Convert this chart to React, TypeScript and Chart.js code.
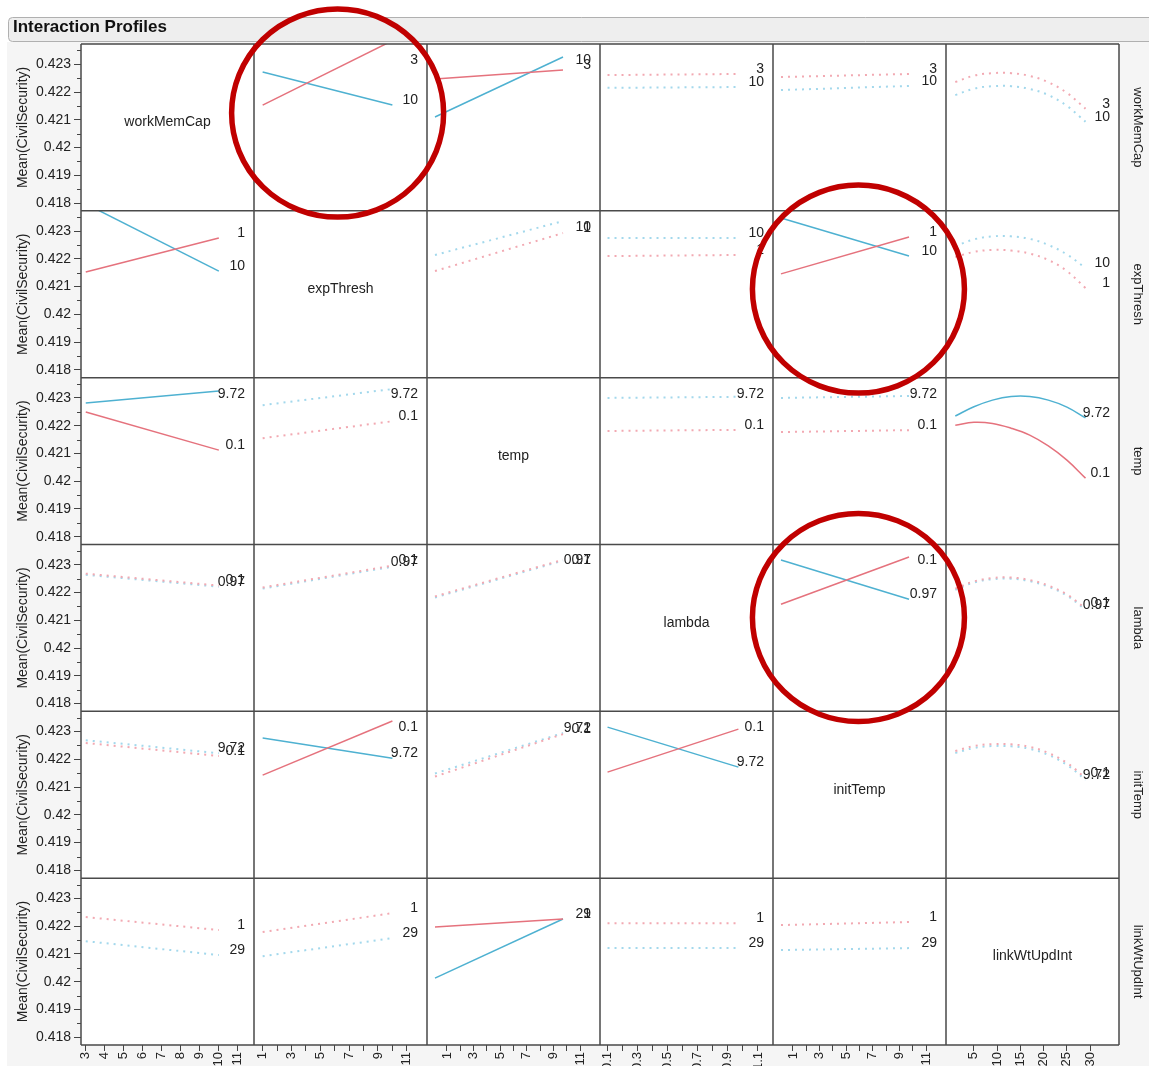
import React, { useEffect, useRef } from 'react';
import { Chart, registerables } from 'chart.js';

Chart.register(...registerables);

const FONT = '"Liberation Sans", Arial, Helvetica, sans-serif';

const TITLE = 'Interaction Profiles';
const Y_TITLE = 'Mean(CivilSecurity)';
const FACTORS = ['workMemCap', 'expThresh', 'temp', 'lambda', 'initTemp', 'linkWtUpdInt'];
const LEVEL_LABELS = [
  ['3', '10'],
  ['1', '10'],
  ['0.1', '9.72'],
  ['0.1', '0.97'],
  ['0.1', '9.72'],
  ['1', '29'],
];
// x values at which each factor is profiled (columns)
const FACTOR_X = [
  [3, 10],
  [1, 10],
  [0.1, 9.72],
  [0.1, 0.97],
  [0.1, 9.72],
  [1, 5, 9, 13, 17, 21, 25, 29],
];
const X_MIN = [2.75, 0.4, -0.5, 0.05, -0.5, -1];
const X_MAX = [11.85, 12.4, 12.5, 1.2, 12.5, 36.2];

const X_TICKS_WORKMEMCAP = [3, 4, 5, 6, 7, 8, 9, 10, 11];
const X_LABELS_WORKMEMCAP = ['3', '4', '5', '6', '7', '8', '9', '10', '11'];
const X_TICKS_EXPTHRESH = [1, 2, 3, 4, 5, 6, 7, 8, 9, 10, 11];
const X_LABELS_EXPTHRESH = ['1', '', '3', '', '5', '', '7', '', '9', '', '11'];
const X_TICKS_TEMP = [1, 2, 3, 4, 5, 6, 7, 8, 9, 10, 11];
const X_LABELS_TEMP = ['1', '', '3', '', '5', '', '7', '', '9', '', '11'];
const X_TICKS_LAMBDA = [0.1, 0.2, 0.3, 0.4, 0.5, 0.6, 0.7, 0.8, 0.9, 1.0, 1.1];
const X_LABELS_LAMBDA = ['0.1', '', '0.3', '', '0.5', '', '0.7', '', '0.9', '', '1.1'];
const X_TICKS_INITTEMP = [1, 2, 3, 4, 5, 6, 7, 8, 9, 10, 11];
const X_LABELS_INITTEMP = ['1', '', '3', '', '5', '', '7', '', '9', '', '11'];
const X_TICKS_LINK = [5, 10, 15, 20, 25, 30];
const X_LABELS_LINK = ['5', '10', '15', '20', '25', '30'];

const X_TICKS = [X_TICKS_WORKMEMCAP, X_TICKS_EXPTHRESH, X_TICKS_TEMP, X_TICKS_LAMBDA, X_TICKS_INITTEMP, X_TICKS_LINK];
const X_TICK_LABELS = [X_LABELS_WORKMEMCAP, X_LABELS_EXPTHRESH, X_LABELS_TEMP, X_LABELS_LAMBDA, X_LABELS_INITTEMP, X_LABELS_LINK];

const Y_MIN = 0.41772;
const Y_MAX = 0.42373;
const Y_TICKS = [0.418, 0.419, 0.42, 0.421, 0.422, 0.423];
const Y_TICK_LABELS = ['0.418', '0.419', '0.42', '0.421', '0.422', '0.423'];
const Y_MINOR_TICKS = [0.4185, 0.4195, 0.4205, 0.4215, 0.4225, 0.4235];

// Mean(CivilSecurity) by row factor level (low = red, high = blue), one entry per column factor
const workMemCapLow = [null, [0.42153, 0.42385], [0.42247, 0.42279], [0.42261, 0.42265], [0.42254, 0.42265], [0.42236, 0.42259, 0.42268, 0.42268, 0.42258, 0.42235, 0.42197, 0.4214]];
const workMemCapHigh = [null, [0.42272, 0.42153], [0.4211, 0.42326], [0.42215, 0.42218], [0.42207, 0.42222], [0.42189, 0.42212, 0.42221, 0.42221, 0.42211, 0.42189, 0.4215, 0.42093]];
const workMemCapSolid = [false, true, true, false, false, false];

const expThreshLow = [[0.42153, 0.42275], null, [0.42156, 0.42293], [0.4221, 0.42214], [0.42146, 0.42279], [0.42207, 0.42225, 0.42232, 0.4223, 0.42219, 0.42196, 0.42156, 0.42095]];
const expThreshHigh = [[0.42398, 0.42156], null, [0.42214, 0.42336], [0.42275, 0.42275], [0.42347, 0.4221], [0.42246, 0.4227, 0.42281, 0.42281, 0.42272, 0.4225, 0.42216, 0.42167]];
const expThreshSolid = [true, false, false, false, true, false];

const tempLow = [[0.42249, 0.42112], [0.42155, 0.42216], null, [0.42181, 0.42185], [0.42177, 0.42184], [0.42202, 0.42212, 0.42208, 0.42191, 0.42166, 0.42127, 0.42076, 0.42011]];
const tempHigh = [[0.42282, 0.42325], [0.42274, 0.42332], null, [0.423, 0.42304], [0.423, 0.42307], [0.42235, 0.42268, 0.42292, 0.42305, 0.42305, 0.42292, 0.42267, 0.42228]];
const tempSolid = [true, false, false, false, false, true];

const lambdaLow = [[0.42268, 0.42225], [0.42218, 0.42297], [0.42186, 0.42318], null, [0.42158, 0.42328], [0.42214, 0.4224, 0.42252, 0.42254, 0.42245, 0.42225, 0.42193, 0.42142]];
const lambdaHigh = [[0.42264, 0.42221], [0.42214, 0.42293], [0.42182, 0.42315], null, [0.42317, 0.42176], [0.4221, 0.42236, 0.42248, 0.4225, 0.42241, 0.42221, 0.42189, 0.42138]];
const lambdaSolid = [false, false, false, false, true, false];

const initTempLow = [[0.42259, 0.42212], [0.42143, 0.42338], [0.42138, 0.42291], [0.42154, 0.42309], null, [0.4223, 0.42248, 0.42255, 0.42254, 0.42245, 0.42223, 0.42187, 0.42133]];
const initTempHigh = [[0.42269, 0.42222], [0.42277, 0.42204], [0.42149, 0.42295], [0.42316, 0.42172], null, [0.42223, 0.42241, 0.42248, 0.42247, 0.42238, 0.42216, 0.4218, 0.42126]];
const initTempSolid = [false, true, false, true, false, false];

const linkWtUpdIntLow = [[0.42233, 0.42186], [0.42179, 0.42247], [0.42197, 0.42226], [0.42211, 0.42211], [0.42204, 0.42215], null];
const linkWtUpdIntHigh = [[0.42146, 0.42096], [0.42092, 0.42157], [0.42013, 0.42226], [0.42121, 0.42121], [0.42114, 0.42121], null];
const linkWtUpdIntSolid = [false, false, true, false, false, false];

const ROW_LOW = [workMemCapLow, expThreshLow, tempLow, lambdaLow, initTempLow, linkWtUpdIntLow];
const ROW_HIGH = [workMemCapHigh, expThreshHigh, tempHigh, lambdaHigh, initTempHigh, linkWtUpdIntHigh];
const ROW_SOLID = [workMemCapSolid, expThreshSolid, tempSolid, lambdaSolid, initTempSolid, linkWtUpdIntSolid];

// highlight circles (annotation), centred in panel data coordinates
const CIRCLE_ROWS = [0, 1, 3];
const CIRCLE_COLS = [1, 4, 4];
const CIRCLE_X = [6.2, 5.92, 5.92];
const CIRCLE_Y = [0.42124, 0.42091, 0.4211];

const SOLID_COLORS = ['#e5727d', '#4eb1d1'];
const DOT_COLORS = ['#f2a9b2', '#a3d8ec'];

function buildDatasets() {
  const datasets: any[] = [];
  for (let r = 0; r < 6; r++) {
    for (let c = 0; c < 6; c++) {
      if (r === c) continue;
      for (let lvl = 0; lvl < 2; lvl++) {
        const vals = (lvl === 0 ? ROW_LOW : ROW_HIGH)[r][c] as number[];
        const solid = ROW_SOLID[r][c];
        datasets.push({
          label: LEVEL_LABELS[r][lvl],
          data: FACTOR_X[c].map((x, i) => ({ x, y: vals[i] })),
          xAxisID: 'x' + c,
          yAxisID: 'y' + r,
          borderColor: solid ? SOLID_COLORS[lvl] : DOT_COLORS[lvl],
          borderWidth: solid ? 1.5 : 2,
          borderDash: solid ? [] : [2, 5],
          pointRadius: 0,
          pointHoverRadius: 0,
          fill: false,
          tension: c === 5 ? 0.4 : 0,
        });
      }
    }
  }
  return datasets;
}

function buildScales() {
  const scales: any = {};
  for (let c = 0; c < 6; c++) {
    scales['x' + c] = {
      type: 'linear',
      axis: 'x',
      position: 'bottom',
      stack: 'cols',
      stackWeight: 1,
      weight: c,
      min: X_MIN[c],
      max: X_MAX[c],
      afterBuildTicks: (s: any) => {
        s.ticks = X_TICKS[c].map((v) => ({ value: v }));
      },
      afterFit: (s: any) => {
        s.height = 21;
      },
      ticks: {
        autoSkip: false,
        minRotation: 90,
        maxRotation: 90,
        padding: 1,
        color: '#222',
        font: { size: 13, family: FONT },
        callback: (_v: any, i: number) => X_TICK_LABELS[c][i],
      },
      grid: { drawOnChartArea: false, drawTicks: true, tickLength: 6, color: '#444' },
      border: { display: false },
    };
  }
  for (let r = 0; r < 6; r++) {
    scales['y' + r] = {
      type: 'linear',
      axis: 'y',
      position: 'left',
      stack: 'rows',
      stackWeight: 1,
      weight: 6 - r,
      min: Y_MIN,
      max: Y_MAX,
      afterBuildTicks: (s: any) => {
        s.ticks = Y_TICKS.map((v) => ({ value: v }));
      },
      afterFit: (s: any) => {
        s.width = 68;
      },
      ticks: {
        autoSkip: false,
        padding: 3,
        color: '#222',
        font: { size: 14, family: FONT },
        callback: (_v: any, i: number) => Y_TICK_LABELS[i],
      },
      grid: { drawOnChartArea: false, drawTicks: true, tickLength: 7, color: '#444' },
      border: { display: false },
      title: {
        display: true,
        text: Y_TITLE,
        color: '#222',
        font: { size: 14, family: FONT },
        padding: { top: 2, bottom: 0 },
      },
    };
    scales['r' + r] = {
      type: 'linear',
      axis: 'y',
      position: 'right',
      stack: 'names',
      stackWeight: 1,
      weight: r,
      min: 0,
      max: 1,
      afterFit: (s: any) => {
        s.width = 30;
      },
      ticks: { display: false },
      grid: { display: false, drawTicks: false },
      border: { display: false },
      title: {
        display: true,
        text: FACTORS[r],
        color: '#222',
        font: { size: 13, family: FONT },
        padding: { top: 4, bottom: 0 },
      },
    };
  }
  return scales;
}

const panelPlugin = {
  id: 'interactionPanels',
  beforeDraw(chart: any) {
    const { ctx, width, height } = chart;
    ctx.save();
    ctx.fillStyle = '#ffffff';
    ctx.fillRect(0, 0, width, height);
    ctx.fillStyle = '#f5f5f5';
    ctx.fillRect(7, 42, width - 7, height - 42);
    ctx.beginPath();
    if (ctx.roundRect) ctx.roundRect(8.5, 17.5, width, 24, 4);
    else ctx.rect(8.5, 17.5, width, 24);
    ctx.fillStyle = '#eeeeee';
    ctx.fill();
    ctx.strokeStyle = '#b0b0b0';
    ctx.lineWidth = 1;
    ctx.stroke();
    ctx.fillStyle = '#ffffff';
    for (let r = 0; r < 6; r++) {
      for (let c = 0; c < 6; c++) {
        const xs = chart.scales['x' + c];
        const ys = chart.scales['y' + r];
        ctx.fillRect(xs.left, ys.top, xs.right - xs.left, ys.bottom - ys.top);
      }
    }
    ctx.restore();
  },
  beforeDatasetDraw(chart: any, args: any) {
    const meta = args.meta;
    const ctx = chart.ctx;
    ctx.save();
    ctx.beginPath();
    ctx.rect(meta.xScale.left, meta.yScale.top, meta.xScale.right - meta.xScale.left, meta.yScale.bottom - meta.yScale.top);
    ctx.clip();
  },
  afterDatasetDraw(chart: any) {
    chart.ctx.restore();
  },
  afterDraw(chart: any) {
    const ctx = chart.ctx;
    const area = chart.chartArea;
    ctx.save();
    // minor y ticks
    ctx.strokeStyle = '#444';
    ctx.lineWidth = 1;
    for (let r = 0; r < 6; r++) {
      const ys = chart.scales['y' + r];
      for (const v of Y_MINOR_TICKS) {
        const py = Math.round(ys.getPixelForValue(v)) + 0.5;
        ctx.beginPath();
        ctx.moveTo(area.left - 4, py);
        ctx.lineTo(area.left, py);
        ctx.stroke();
      }
    }
    // end-of-line level labels
    ctx.font = `14px ${FONT}`;
    ctx.fillStyle = '#222';
    ctx.textAlign = 'right';
    ctx.textBaseline = 'middle';
    chart.data.datasets.forEach((ds: any, i: number) => {
      const meta = chart.getDatasetMeta(i);
      const xs = meta.xScale;
      const ys = meta.yScale;
      const last = ds.data[ds.data.length - 1];
      let py = ys.getPixelForValue(last.y) - 5;
      py = Math.min(Math.max(py, ys.top + 16), ys.bottom - 10);
      ctx.fillText(ds.label, xs.right - 9, py);
    });
    // diagonal factor names
    ctx.textAlign = 'center';
    for (let r = 0; r < 6; r++) {
      const xs = chart.scales['x' + r];
      const ys = chart.scales['y' + r];
      ctx.fillText(FACTORS[r], (xs.left + xs.right) / 2, (ys.top + ys.bottom) / 2 - 5);
    }
    // panel borders
    ctx.strokeStyle = '#4a4a4a';
    ctx.lineWidth = 1.5;
    ctx.beginPath();
    for (let c = 0; c < 6; c++) {
      const x = chart.scales['x' + c].left;
      ctx.moveTo(x, area.top);
      ctx.lineTo(x, area.bottom);
    }
    ctx.moveTo(area.right, area.top);
    ctx.lineTo(area.right, area.bottom);
    for (let r = 0; r < 6; r++) {
      const y = chart.scales['y' + r].top;
      ctx.moveTo(area.left, y);
      ctx.lineTo(area.right, y);
    }
    ctx.moveTo(area.left, area.bottom);
    ctx.lineTo(area.right, area.bottom);
    ctx.stroke();
    // highlight circles
    ctx.strokeStyle = '#c00000';
    ctx.lineWidth = 5.5;
    for (let k = 0; k < CIRCLE_ROWS.length; k++) {
      const xs = chart.scales['x' + CIRCLE_COLS[k]];
      const ys = chart.scales['y' + CIRCLE_ROWS[k]];
      const cx = xs.getPixelForValue(CIRCLE_X[k]);
      const cy = ys.getPixelForValue(CIRCLE_Y[k]);
      ctx.beginPath();
      ctx.ellipse(cx, cy, 106, 104, 0, 0, Math.PI * 2);
      ctx.stroke();
    }
    ctx.restore();
  },
};

export default function App() {
  const ref = useRef<HTMLCanvasElement | null>(null);
  useEffect(() => {
    if (!ref.current) return;
    Chart.defaults.font.family = FONT;
    const chart = new Chart(ref.current, {
      type: 'line',
      data: { datasets: buildDatasets() },
      options: {
        animation: false,
        responsive: false,
        maintainAspectRatio: false,
        events: [],
        layout: { padding: { left: 13, top: 0, right: 0, bottom: 0 } },
        plugins: {
          legend: { display: false },
          tooltip: { enabled: false },
          title: {
            display: true,
            text: TITLE,
            align: 'start',
            color: '#111',
            font: { size: 17, weight: 'bold', family: FONT },
            padding: { top: 17, bottom: 6.6 },
          },
        },
        scales: buildScales(),
      },
      plugins: [panelPlugin],
    } as any);
    return () => chart.destroy();
  }, []);
  return (
    <div style={{ position: 'fixed', left: 0, top: 0, width: 1149, height: 1066, overflow: 'hidden', background: '#fff' }}>
      <canvas ref={ref} width={1149} height={1066} style={{ display: 'block', width: 1149, height: 1066 }} />
    </div>
  );
}
